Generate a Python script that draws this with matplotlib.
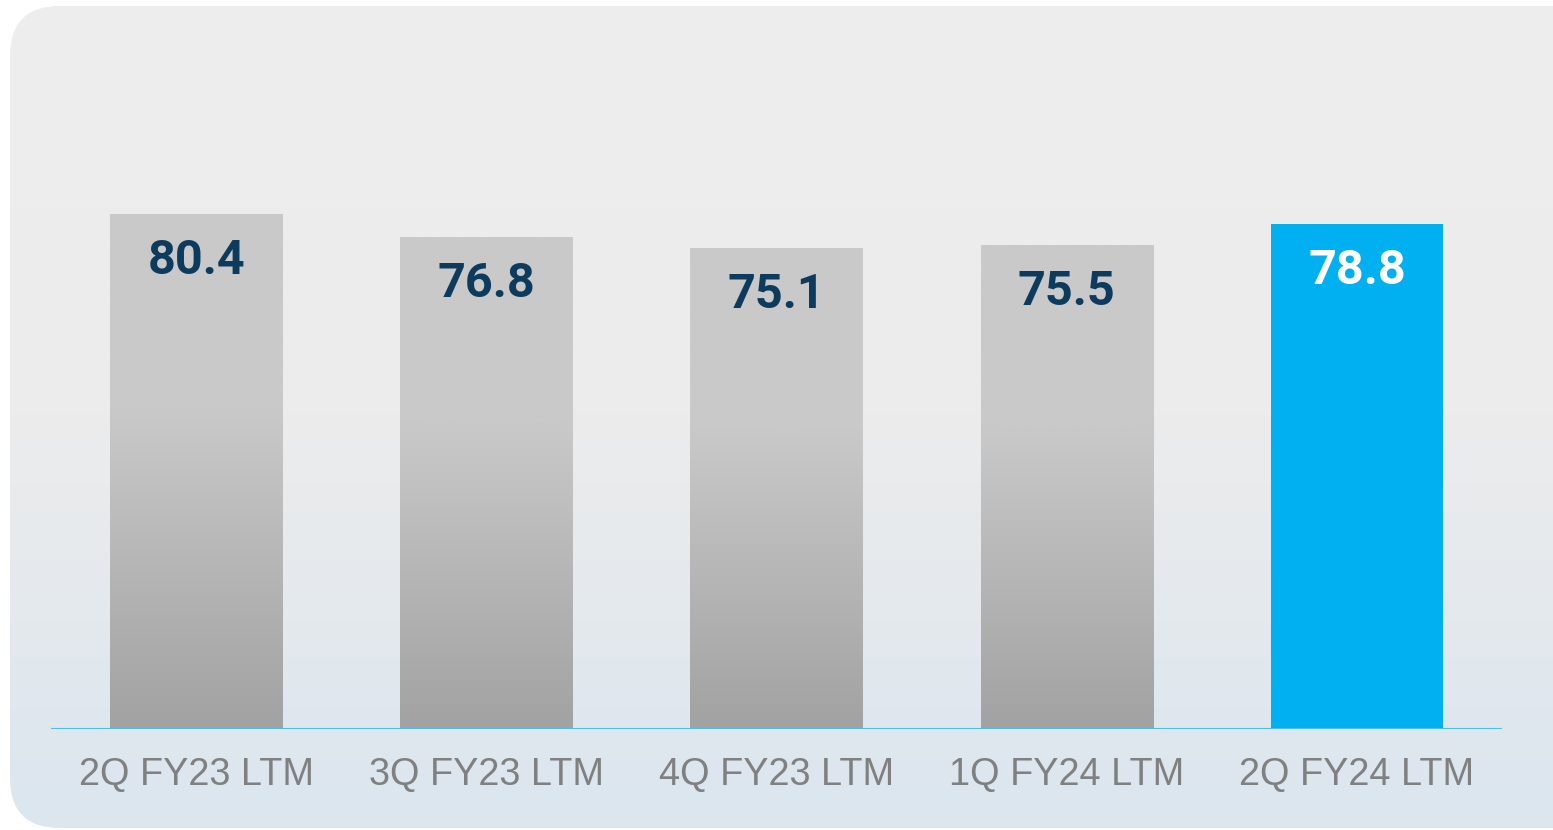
import matplotlib
matplotlib.use('Agg')
import matplotlib.pyplot as plt
import numpy as np
from matplotlib.patches import FancyBboxPatch
from matplotlib.colors import LinearSegmentedColormap

categories = ['2Q FY23 LTM', '3Q FY23 LTM', '4Q FY23 LTM', '1Q FY24 LTM', '2Q FY24 LTM']
values = [80.4, 76.8, 75.1, 75.5, 78.8]
highlight = [False, False, False, False, True]

W, H = 1553, 830
fig = plt.figure(figsize=(W / 100, H / 100), dpi=100)

# background panel: rounded box with a soft vertical gradient
bg = fig.add_axes([0, 0, 1, 1])
bg.set_xlim(0, W)
bg.set_ylim(H, 0)
bg.axis('off')
bg_cmap = LinearSegmentedColormap.from_list('bg', ['#eeeeee', '#ececec', '#dbe6ef'])
grad = np.linspace(0, 1, 256).reshape(-1, 1)
im = bg.imshow(grad, cmap=bg_cmap, extent=(0, W, H, 0), aspect='auto', zorder=0)
box = FancyBboxPatch((10, 6), 1640, 822, boxstyle='round,pad=0,rounding_size=50',
                     transform=bg.transData, facecolor='none', edgecolor='none')
bg.add_patch(box)
im.set_clip_path(box)

# main axes, positioned in pixels
px = 6.405  # pixels per unit
ax_left, ax_right, ax_base, ax_top = 51, 1502, 729, 100
ax = fig.add_axes([ax_left / W, (H - ax_base) / H, (ax_right - ax_left) / W, (ax_base - ax_top) / H])
ax.patch.set_alpha(0)

bar_cmap = LinearSegmentedColormap.from_list('bar', [(0, '#a2a2a2'), (0.62, '#c9c9c9'), (1, '#c9c9c9')])
width = 0.593
x = np.arange(len(values))
bars = ax.bar(x, values, width=width, color=['#00b0f0' if h else 'none' for h in highlight],
              edgecolor='none', zorder=2)
for b, v, h in zip(bars, values, highlight):
    if not h:
        g = np.linspace(1, 0, 256).reshape(-1, 1)
        bi = ax.imshow(g, cmap=bar_cmap, vmin=0, vmax=1, aspect='auto', zorder=2,
                       extent=(b.get_x(), b.get_x() + b.get_width(), 0, v))
        bi.set_clip_path(b)
    ax.text(b.get_x() + b.get_width() / 2, v - 47 / px, f'{v:.1f}',
            ha='center', va='center', fontsize=35, fontweight='bold', family='Roboto',
            color='white' if h else '#0d3b5e', zorder=3)

ax.set_xlim(-0.5, len(values) - 0.5)
ax.set_ylim(0, (ax_base - ax_top) / px)
ax.axhline(0, color='#4fbde9', lw=1.5, zorder=4)
for s in ax.spines.values():
    s.set_visible(False)
ax.set_yticks([])
ax.set_xticks(x)
ax.set_xticklabels(categories, fontsize=27.3, color='#808080', family='Liberation Sans')
ax.tick_params(axis='x', length=0, pad=20)

fig.savefig('out.png', dpi=100)
